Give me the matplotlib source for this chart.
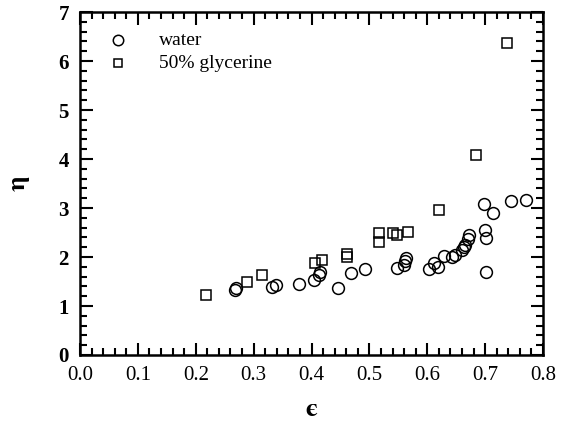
import matplotlib
matplotlib.use("Agg")
import matplotlib.pyplot as plt
from matplotlib.ticker import MultipleLocator

water_eps = [0.268, 0.270, 0.332, 0.338, 0.378, 0.404, 0.413, 0.414, 0.445, 0.469, 0.492,
             0.548, 0.560, 0.562, 0.563, 0.603, 0.612, 0.619, 0.629, 0.643, 0.648,
             0.660, 0.663, 0.666, 0.671, 0.672, 0.700, 0.701, 0.701, 0.698, 0.714, 0.744, 0.770]
water_eta = [1.33, 1.36, 1.39, 1.43, 1.45, 1.53, 1.63, 1.70, 1.37, 1.67, 1.76,
             1.77, 1.84, 1.92, 1.97, 1.75, 1.88, 1.80, 2.02, 1.99, 2.04,
             2.14, 2.20, 2.24, 2.36, 2.45, 2.55, 2.38, 1.70, 3.08, 2.90, 3.14, 3.17]

gly_eps = [0.217, 0.289, 0.315, 0.406, 0.418, 0.462, 0.462, 0.517, 0.517, 0.540, 0.548,
           0.567, 0.620, 0.685, 0.738]
gly_eta = [1.22, 1.48, 1.63, 1.88, 1.94, 2.01, 2.07, 2.31, 2.48, 2.48, 2.45,
           2.52, 2.96, 4.08, 6.36]

x_ticks = [0.0, 0.1, 0.2, 0.3, 0.4, 0.5, 0.6, 0.7, 0.8]
y_ticks = [0, 1, 2, 3, 4, 5, 6, 7]
legend_labels = ["water", "50% glycerine"]

plt.rcParams['font.family'] = ['Liberation Serif', 'DejaVu Serif']

fig = plt.figure(figsize=(5.62, 4.25), dpi=100)
ax = fig.add_axes([80/562, 1-355/425, 463/562, 343/425])

ax.plot(water_eps, water_eta, linestyle='none', marker='o', markersize=8.5,
        markerfacecolor='none', markeredgecolor='black', markeredgewidth=1.1)
ax.plot(gly_eps, gly_eta, linestyle='none', marker='s', markersize=7,
        markerfacecolor='none', markeredgecolor='black', markeredgewidth=1.1)

ax.set_xlim(0, 0.8)
ax.set_ylim(0, 7)
ax.set_xticks(x_ticks)
ax.set_xticklabels([f"{v:.1f}" for v in x_ticks])
ax.set_yticks(y_ticks)
ax.set_yticklabels([str(v) for v in y_ticks], fontweight='bold')
ax.xaxis.set_minor_locator(MultipleLocator(0.02))
ax.yaxis.set_minor_locator(MultipleLocator(0.2))
ax.tick_params(which='both', direction='in', top=True, right=True, width=1.5, labelsize=15, colors='black')
ax.tick_params(which='major', length=9, pad=8)
ax.tick_params(which='minor', length=5)
for s in ax.spines.values():
    s.set_linewidth(1.8)

# legend
ax.plot([0.066], [6.42], linestyle='none', marker='o', markersize=7.5, markerfacecolor='none',
        markeredgecolor='black', markeredgewidth=1.1)
ax.plot([0.066], [5.95], linestyle='none', marker='s', markersize=6, markerfacecolor='none',
        markeredgecolor='black', markeredgewidth=1.1)
ax.text(0.137, 6.42, legend_labels[0], fontsize=14, va='center', ha='left')
ax.text(0.137, 5.95, legend_labels[1], fontsize=14, va='center', ha='left')

ax.set_xlabel('\u03f5', fontsize=19, labelpad=10, family='STIXGeneral', fontweight='bold')
ax.set_ylabel('\u03b7', fontsize=19, labelpad=21, rotation=90,
              family='STIXGeneral', fontweight='bold')

fig.savefig('out.png', dpi=100)
